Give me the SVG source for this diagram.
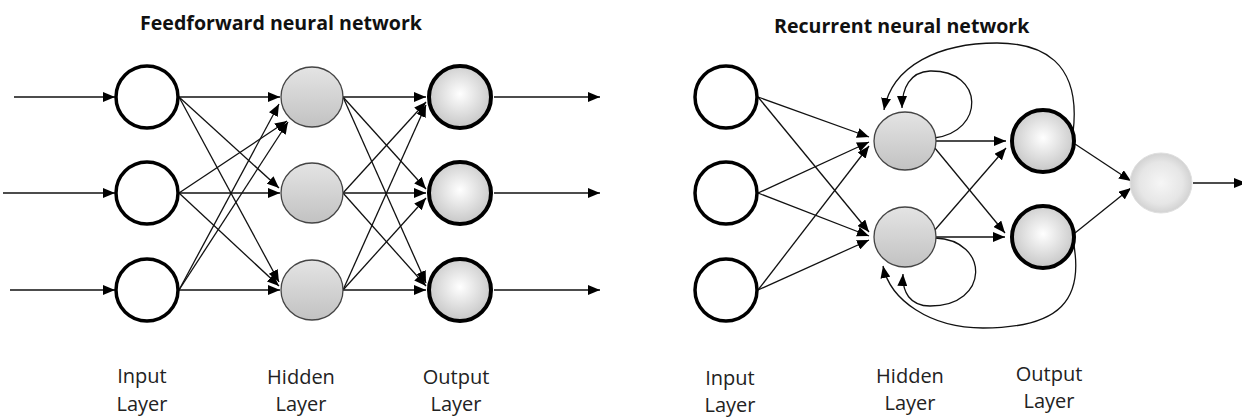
<svg xmlns="http://www.w3.org/2000/svg" width="1242" height="417" viewBox="0 0 1242 417">
<defs>
<marker id="ah" markerUnits="userSpaceOnUse" markerWidth="12" markerHeight="10" viewBox="0 0 12 10" refX="12" refY="5" orient="auto">
<path d="M0,0 L12,5 L0,10 z" fill="#000"/>
</marker>
<linearGradient id="hid" x1="0" y1="0" x2="0" y2="1">
<stop offset="0" stop-color="#e4e4e4"/>
<stop offset="1" stop-color="#c2c2c2"/>
</linearGradient>
<radialGradient id="out" cx="0.5" cy="0.45" r="0.55">
<stop offset="0" stop-color="#ffffff"/>
<stop offset="1" stop-color="#c6c6c6"/>
</radialGradient>
<radialGradient id="fin" cx="0.5" cy="0.5" r="0.5">
<stop offset="0" stop-color="#f6f6f6"/>
<stop offset="0.7" stop-color="#e6e6e6"/>
<stop offset="1" stop-color="#d2d2d2"/>
</radialGradient>
</defs>
<style>
.title{font-family:"Open Sans","Liberation Sans",sans-serif;font-weight:bold;font-size:19.6px;fill:#111}
.lbl{font-family:"Open Sans","Liberation Sans",sans-serif;font-size:20px;fill:#222;text-anchor:middle}
.in{fill:#fff;stroke:#000;stroke-width:3.5}
.hd{fill:url(#hid);stroke:#444;stroke-width:1.3}
.ot{fill:url(#out);stroke:#000;stroke-width:4}
.fn{fill:url(#fin);stroke:#e0e0e0;stroke-width:1}
.c line,.c path{stroke:#111;stroke-width:1.3;fill:none;marker-end:url(#ah)}
</style>
<rect width="1242" height="417" fill="#fff"/>

<text class="title" x="140" y="30">Feedforward neural network</text>
<text class="title" x="774" y="33">Recurrent neural network</text>

<g class="c" id="connectors">
<!-- feedforward inputs -->
<line x1="14" y1="97" x2="115" y2="97"/>
<line x1="3" y1="193" x2="115" y2="193"/>
<line x1="10" y1="290" x2="115" y2="290"/>
<!-- input -> hidden -->
<line x1="179" y1="97" x2="280" y2="97"/>
<line x1="179" y1="97" x2="279" y2="188"/>
<line x1="179" y1="97" x2="279" y2="282"/>
<line x1="179" y1="193" x2="287" y2="121"/>
<line x1="179" y1="193" x2="280" y2="193"/>
<line x1="179" y1="193" x2="279" y2="286"/>
<line x1="179" y1="290" x2="279" y2="104"/>
<line x1="179" y1="290" x2="288" y2="122"/>
<line x1="179" y1="290" x2="280" y2="290"/>
<!-- hidden -> output -->
<line x1="343" y1="97" x2="426" y2="97"/>
<line x1="343" y1="97" x2="426" y2="189"/>
<line x1="343" y1="97" x2="426" y2="283"/>
<line x1="343" y1="193" x2="426" y2="102"/>
<line x1="343" y1="193" x2="426" y2="193"/>
<line x1="343" y1="193" x2="426" y2="286"/>
<line x1="343" y1="290" x2="426" y2="105"/>
<line x1="343" y1="290" x2="426" y2="198"/>
<line x1="343" y1="290" x2="426" y2="290"/>
<!-- outputs -->
<line x1="494" y1="97" x2="600" y2="97"/>
<line x1="494" y1="193" x2="600" y2="193"/>
<line x1="494" y1="290" x2="600" y2="290"/>

<!-- recurrent: input -> hidden -->
<line x1="758" y1="97" x2="869" y2="137"/>
<line x1="758" y1="97" x2="869" y2="232"/>
<line x1="758" y1="193" x2="869" y2="142"/>
<line x1="758" y1="193" x2="869" y2="236"/>
<line x1="758" y1="290" x2="869" y2="146"/>
<line x1="758" y1="290" x2="869" y2="240"/>
<!-- hidden -> output -->
<line x1="936" y1="141" x2="1006" y2="141"/>
<line x1="934" y1="147" x2="1005" y2="233"/>
<line x1="934" y1="231" x2="1006" y2="148"/>
<line x1="936" y1="237" x2="1005" y2="237"/>
<!-- output -> final -->
<line x1="1075" y1="144" x2="1131" y2="181"/>
<line x1="1075" y1="233" x2="1131" y2="188"/>
<line x1="1193" y1="183" x2="1246" y2="183"/>
<!-- recurrent loops -->
<path d="M934,138 C985,132 985,70 930,71 C910,72 902,88 902,108"/>
<path d="M1073,133 C1082,60 1040,43 997,43 C940,43 892,65 884,110"/>
<path d="M935,238 C990,240 990,306 930,306 C910,306 902,292 903,274"/>
<path d="M1073,240 C1085,300 1060,328 983,328 C930,328 890,300 883,266"/>
</g>

<!-- feedforward nodes -->
<g id="ff-in1"><ellipse class="in" cx="147" cy="97" rx="31" ry="31"/></g>
<g id="ff-in2"><ellipse class="in" cx="147" cy="193" rx="31" ry="31"/></g>
<g id="ff-in3"><ellipse class="in" cx="147" cy="290" rx="31" ry="31"/></g>
<g id="ff-h1"><ellipse class="hd" cx="312" cy="97" rx="31" ry="30"/></g>
<g id="ff-h2"><ellipse class="hd" cx="312" cy="193" rx="31" ry="30"/></g>
<g id="ff-h3"><ellipse class="hd" cx="312" cy="290" rx="31" ry="30"/></g>
<g id="ff-o1"><ellipse class="ot" cx="460" cy="97" rx="31" ry="31"/></g>
<g id="ff-o2"><ellipse class="ot" cx="460" cy="193" rx="31" ry="31"/></g>
<g id="ff-o3"><ellipse class="ot" cx="460" cy="290" rx="31" ry="31"/></g>

<!-- recurrent nodes -->
<g id="rn-in1"><ellipse class="in" cx="726" cy="97" rx="31" ry="31"/></g>
<g id="rn-in2"><ellipse class="in" cx="726" cy="193" rx="31" ry="31"/></g>
<g id="rn-in3"><ellipse class="in" cx="726" cy="290" rx="31" ry="31"/></g>
<g id="rn-h1"><ellipse class="hd" cx="905" cy="141" rx="31" ry="29"/></g>
<g id="rn-h2"><ellipse class="hd" cx="905" cy="237" rx="31" ry="30"/></g>
<g id="rn-o1"><ellipse class="ot" cx="1043" cy="141" rx="31" ry="31"/></g>
<g id="rn-o2"><ellipse class="ot" cx="1043" cy="237" rx="31" ry="31"/></g>
<g id="rn-f"><ellipse class="fn" cx="1161" cy="183" rx="31" ry="30"/></g>

<!-- labels -->
<text class="lbl" x="142" y="383">Input</text>
<text class="lbl" x="142" y="411">Layer</text>
<text class="lbl" x="301" y="384">Hidden</text>
<text class="lbl" x="301" y="411">Layer</text>
<text class="lbl" x="456" y="384">Output</text>
<text class="lbl" x="456" y="411">Layer</text>
<text class="lbl" x="730" y="385">Input</text>
<text class="lbl" x="730" y="412">Layer</text>
<text class="lbl" x="910" y="383">Hidden</text>
<text class="lbl" x="910" y="410">Layer</text>
<text class="lbl" x="1049" y="381">Output</text>
<text class="lbl" x="1049" y="408">Layer</text>
</svg>
